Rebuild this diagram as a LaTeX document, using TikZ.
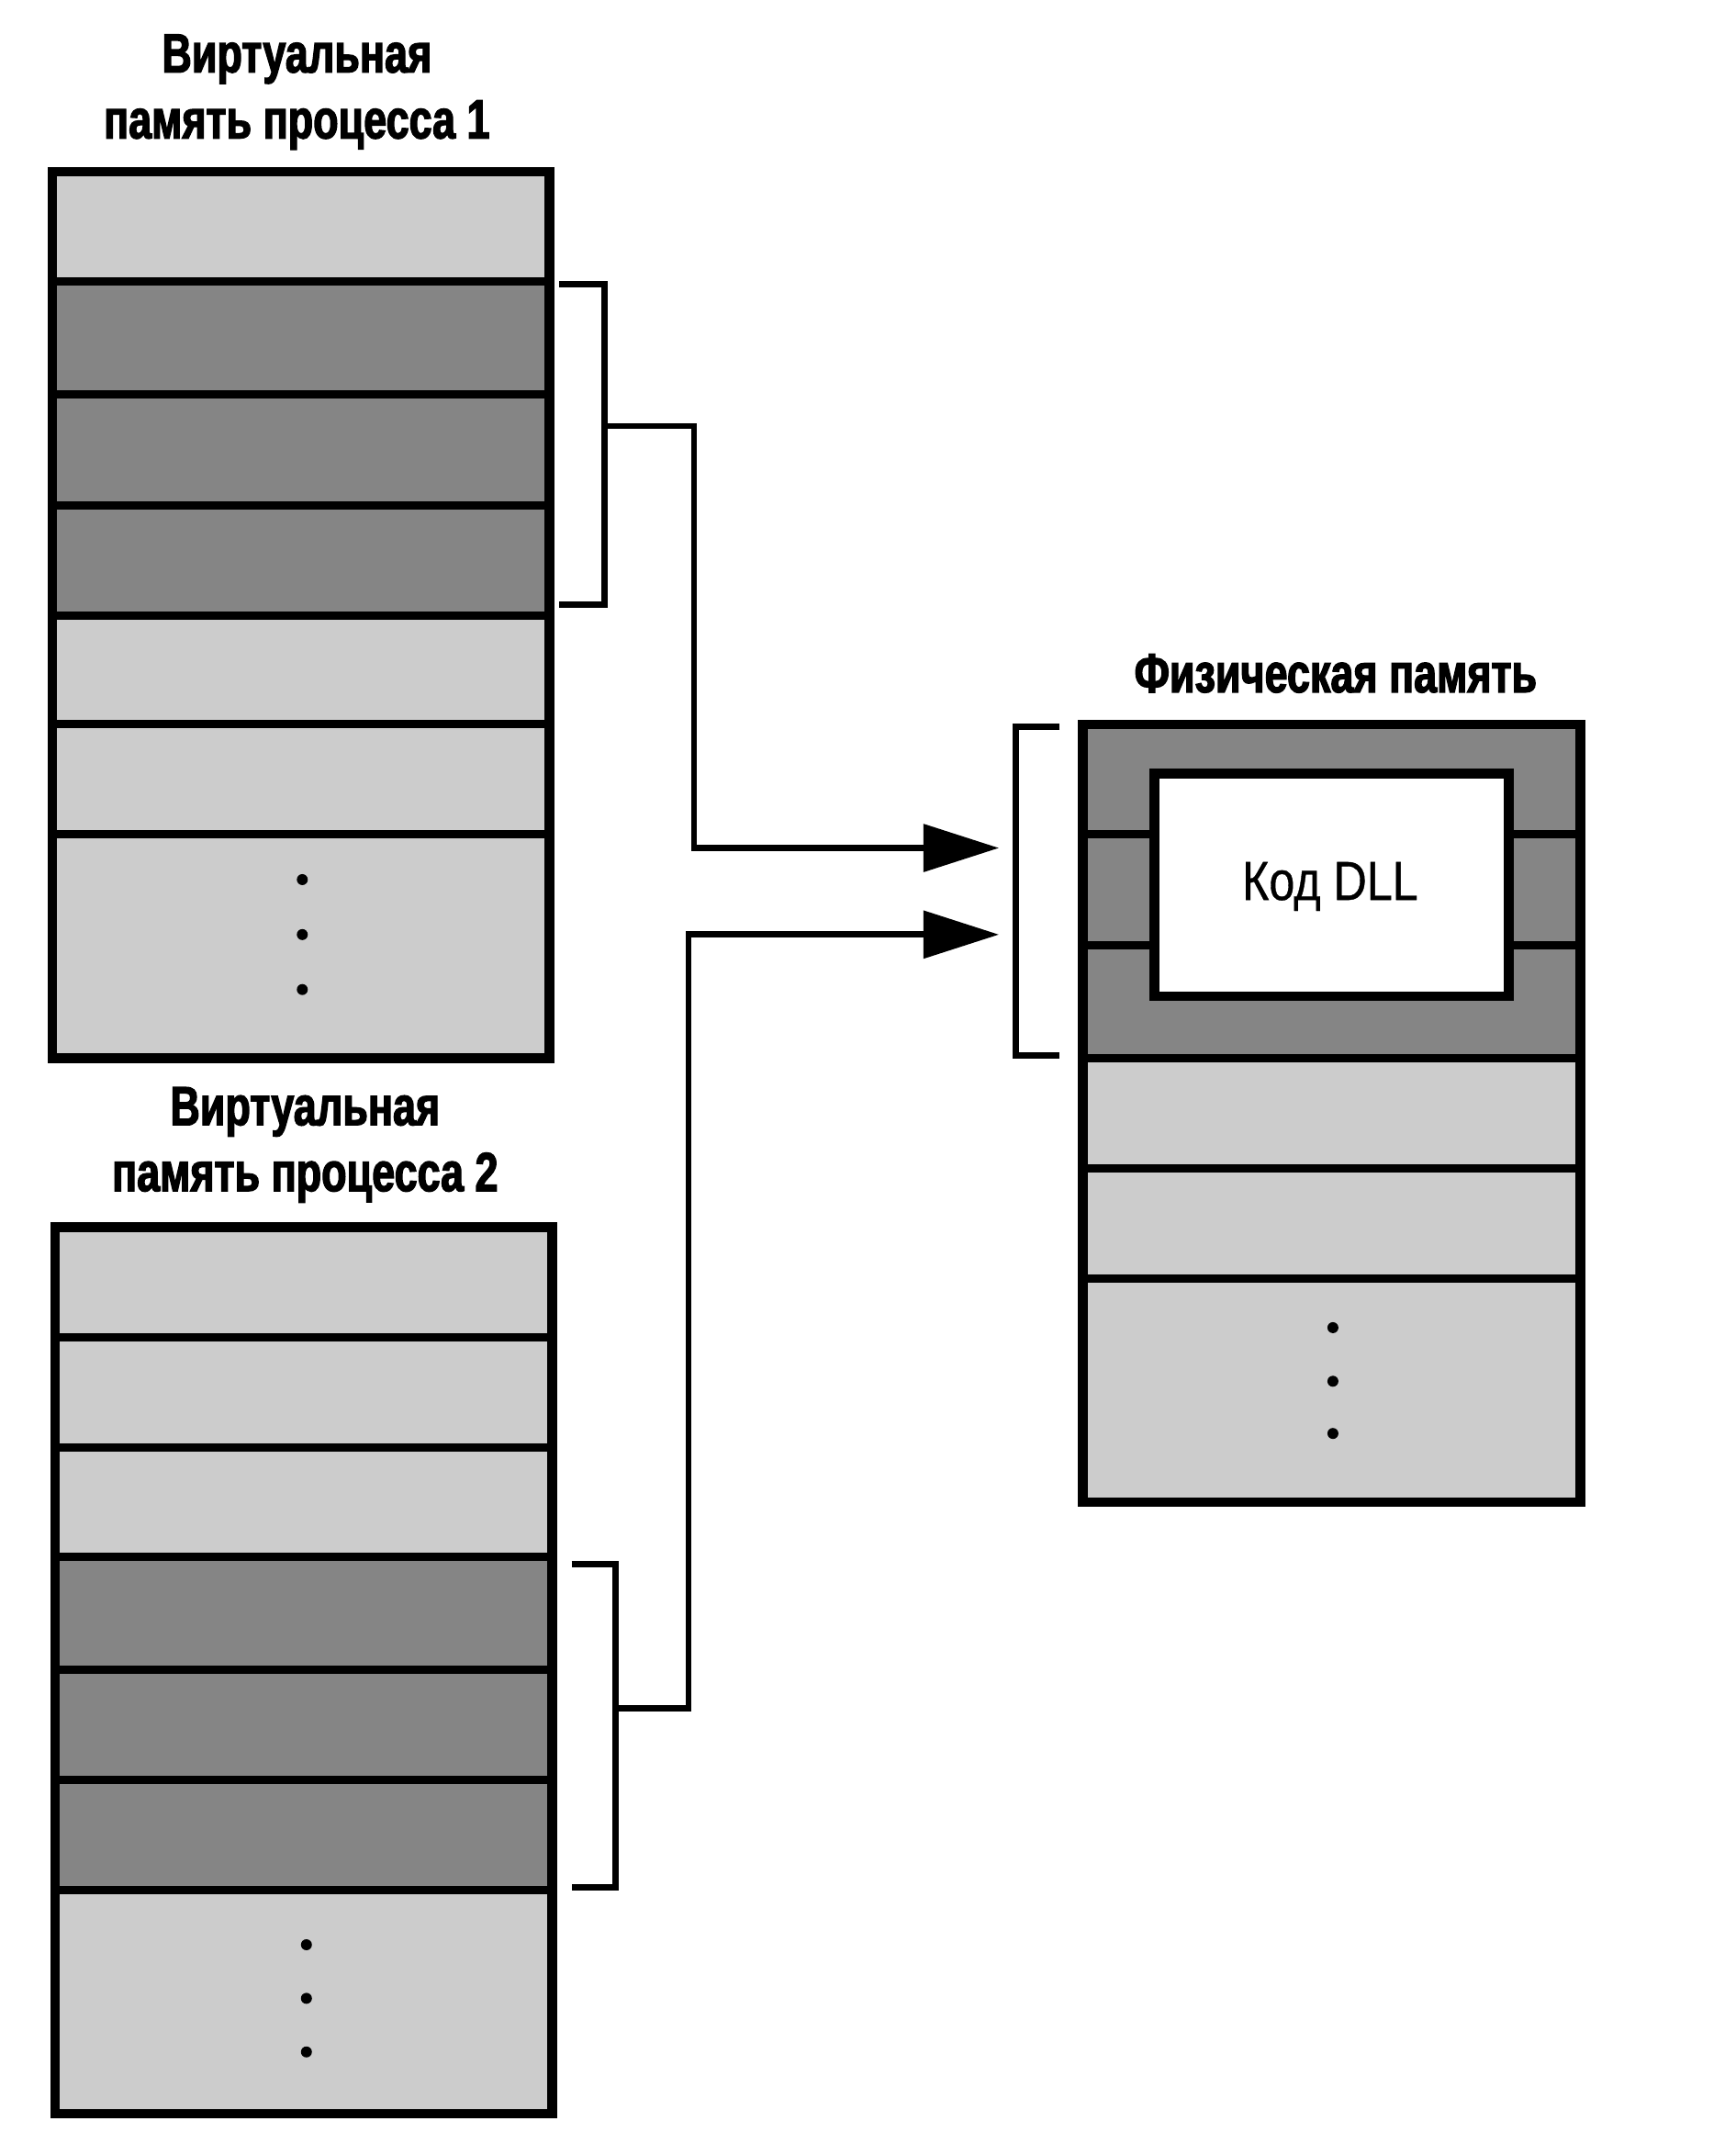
\documentclass[tikz,border=0pt]{standalone}
\usepackage{fontspec}
\setmainfont{Liberation Sans}[FakeStretch=0.84,FakeBold=0.6]
\newfontfamily\titlefont{Liberation Sans Bold}[FakeStretch=0.75,FakeBold=2.2]
\usetikzlibrary{fit,arrows.meta}
\tikzset{
  cell/.style={inner sep=0pt,outer sep=0pt,draw=black,line width=6pt},
  lrow/.style={cell,fill=black!20},
  drow/.style={cell,fill=black!48},
  frame/.style={inner sep=0pt,outer sep=0pt,draw=black,line width=7pt},
  brk/.style={line width=4.5pt,line join=miter},
  conn/.style={line width=4.5pt,-{Triangle[length=55pt,width=34pt]}},
  title/.style={font=\titlefont\fontsize{40}{48}\selectfont,align=center,inner sep=0pt},
  ddot/.style={circle,fill=black,inner sep=0pt,minimum size=8pt}
}
\begin{document}
\begin{tikzpicture}[x=1pt,y=-1pt]
\useasboundingbox[fill=white] (0,0) rectangle (1263,1568);

% ---------- Process 1 ----------
\node[title] (t1) at (216,67) {Виртуальная\\память процесса 1};
\node[lrow,fit={(38,125)(400,205)}] (a1) {};
\node[drow,fit={(38,205)(400,287)}] (a2) {};
\node[drow,fit={(38,287)(400,368)}] (a3) {};
\node[drow,fit={(38,368)(400,448)}] (a4) {};
\node[lrow,fit={(38,448)(400,527)}] (a5) {};
\node[lrow,fit={(38,527)(400,607)}] (a6) {};
\node[lrow,fit={(38,607)(400,770)}] (a7) {};
\node[frame,fit={(38,125)(400,770)}] (A) {};
\node[ddot] (ad1) at (220,640) {};
\node[ddot] (ad2) at (220,680) {};
\node[ddot] (ad3) at (220,720) {};

% ---------- Process 2 ----------
\node[title] (t2) at (222,833) {Виртуальная\\память процесса 2};
\node[lrow,fit={(40,893)(402,973)}] (b1) {};
\node[lrow,fit={(40,973)(402,1053)}] (b2) {};
\node[lrow,fit={(40,1053)(402,1133)}] (b3) {};
\node[drow,fit={(40,1133)(402,1215)}] (b4) {};
\node[drow,fit={(40,1215)(402,1295)}] (b5) {};
\node[drow,fit={(40,1295)(402,1375)}] (b6) {};
\node[lrow,fit={(40,1375)(402,1538)}] (b7) {};
\node[frame,fit={(40,893)(402,1538)}] (B) {};
\node[ddot] (bd1) at (223,1415) {};
\node[ddot] (bd2) at (223,1454) {};
\node[ddot] (bd3) at (223,1493) {};

% ---------- Physical memory ----------
\node[title] (t3) at (972,490) {Физическая память};
\node[drow,fit={(788,527)(1150,607)}] (c1) {};
\node[drow,fit={(788,607)(1150,688)}] (c2) {};
\node[drow,fit={(788,688)(1150,770)}] (c3) {};
\node[lrow,fit={(788,770)(1150,850)}] (c4) {};
\node[lrow,fit={(788,850)(1150,930)}] (c5) {};
\node[lrow,fit={(788,930)(1150,1093)}] (c6) {};
\node[frame,fit={(788,527)(1150,1093)}] (C) {};
\node[frame,fill=white,fit={(840,563)(1098,725)}] (dll) {};
\node[font=\fontsize{40}{48}\selectfont,inner sep=0pt] (dlltext) at (968,645) {Код DLL};
\node[ddot] (cd1) at (970,966) {};
\node[ddot] (cd2) at (970,1005) {};
\node[ddot] (cd3) at (970,1043) {};

% ---------- Brackets ----------
\coordinate (k1) at (440,310);
\draw[brk] (407,207) -- (440,207) -- (440,440) -- (407,440);
\coordinate (k2) at (448,1243);
\draw[brk] (416,1138) -- (448,1138) -- (448,1373) -- (416,1373);
\draw[brk] (771,529) -- (739,529) -- (739,768) -- (771,768);
\coordinate (in1) at (727,617);
\coordinate (in2) at (727,680);

% ---------- Connectors ----------
\draw[conn] (k1) -- (505,310) |- (in1);
\draw[conn] (k2) -- (501,1243) |- (in2);
\end{tikzpicture}
\end{document}
